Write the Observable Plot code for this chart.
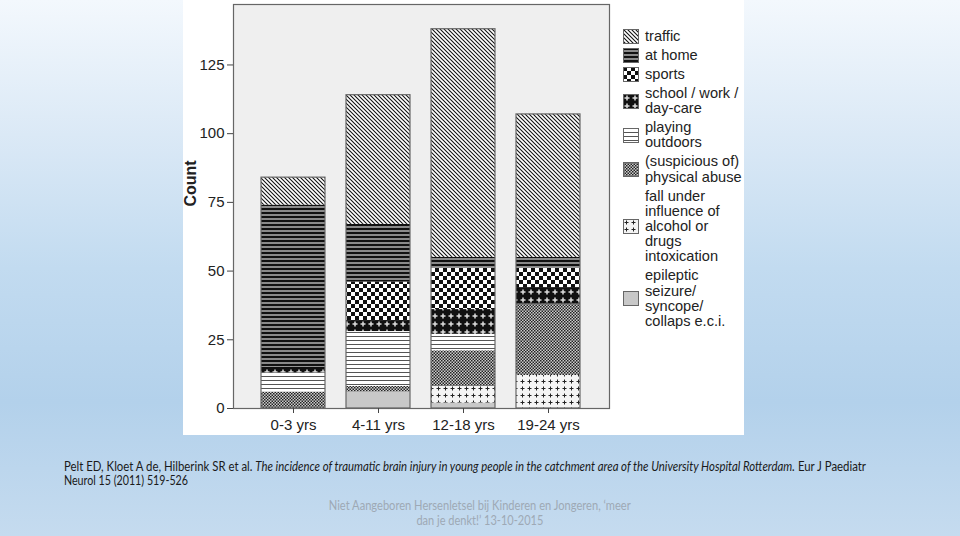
<!DOCTYPE html>
<html>
<head>
<meta charset="utf-8">
<script src="https://cdn.jsdelivr.net/npm/d3@7"></script>
<script src="https://cdn.jsdelivr.net/npm/@observablehq/plot@0.6"></script>
<style>
  html, body { margin: 0; padding: 0; }
  body {
    width: 960px; height: 536px; position: relative; overflow: hidden;
    background: linear-gradient(to bottom, #f3f8fd 0%, #dbe9f6 25%, #c2dbf0 50%, #b3d1eb 75%, #c5dbef 100%);
    font-family: "Liberation Sans", Arial, sans-serif;
  }
  #chart { position: absolute; left: 183px; top: 0; width: 561px; height: 435px; background: #fff; }
  #chart svg { display: block; }
  #legend { position: absolute; left: 440px; top: 29px; font-size: 14.6px; line-height: 15.2px; color: #222; white-space: nowrap; }
  .item { display: flex; align-items: center; margin-bottom: 3.8px; }
  .item svg { flex: none; margin-right: 6px; }
  #caption { position: absolute; left: 64px; top: 460px; font-family: Lato, "Open Sans", sans-serif; font-size: 12.5px; line-height: 14px; color: #1a1a1a; white-space: nowrap; }
  #caption .ln { display: block; width: max-content; transform-origin: 0 0; }
  #footer { position: absolute; left: 0; width: 960px; top: 498px; font-family: Lato, "Open Sans", sans-serif; font-size: 13px; line-height: 15px; color: #9ea9b5; white-space: nowrap; }
  #footer .ln { display: block; width: max-content; margin: 0 auto; transform-origin: 50% 0; }
</style>
</head>
<body>
<div id="chart"><div id="legend"></div></div>
<div id="caption"><span class="ln" data-w="802">Pelt ED, Kloet A de, Hilberink SR et al. <i>The incidence of traumatic brain injury in young people in the catchment area of the University Hospital Rotterdam.</i> Eur J Paediatr</span><span class="ln" data-w="124">Neurol 15 (2011) 519-526</span></div>
<div id="footer"><span class="ln" data-w="302">Niet Aangeboren Hersenletsel bij Kinderen en Jongeren, ‘meer</span><span class="ln" data-w="127">dan je denkt!’ 13-10-2015</span></div>
<script>
// ---- data ----
const ages = ["0-3 yrs", "4-11 yrs", "12-18 yrs", "19-24 yrs"];
const categories = ["traffic", "at home", "sports", "school / work / day-care", "playing outdoors",
  "(suspicious of) physical abuse", "fall under influence of alcohol or drugs intoxication",
  "epileptic seizure/ syncope/ collaps e.c.i."];
const legendLabels = ["traffic", "at home", "sports", "school / work /<br>day-care", "playing<br>outdoors",
  "(suspicious of)<br>physical abuse", "fall under<br>influence of<br>alcohol or<br>drugs<br>intoxication",
  "epileptic<br>seizure/<br>syncope/<br>collaps e.c.i."];
const traffic  = [10, 47, 83, 52];
const atHome   = [59, 21, 4, 4];
const sports   = [0, 14, 15, 7];
const school   = [2, 4, 9, 6];
const playing  = [7, 20, 6, 0];
const abuse    = [6, 2, 13, 26];
const alcohol  = [0, 0, 6, 12];
const seizure  = [0, 6, 2, 0];
const yTicks = [0, 25, 50, 75, 100, 125];

const series = [traffic, atHome, sports, school, playing, abuse, alcohol, seizure];
const patternIds = ["p-traffic", "p-home", "p-sports", "p-school", "p-playing", "p-abuse", "p-alcohol", "p-seizure"];

// stacked bottom-to-top: reverse of legend order
const data = [];
for (let s = categories.length - 1; s >= 0; s--) {
  ages.forEach((a, i) => { if (series[s][i] > 0) data.push({age: a, cat: categories[s], count: series[s][i]}); });
}

const svg = Plot.plot({
  width: 561, height: 435,
  marginLeft: 50, marginRight: 135, marginTop: 4, marginBottom: 27,
  style: {fontFamily: "'Liberation Sans', Arial, sans-serif", fontSize: "15px", color: "#222", background: "transparent"},
  x: {domain: ages, paddingInner: 0.247, paddingOuter: 0.335, label: null},
  y: {domain: [0, 147], label: null},
  color: {domain: categories, range: patternIds.map(id => `url(#${id})`)},
  marks: [
    Plot.frame({fill: "#efefef"}),
    Plot.barY(data, {x: "age", y: "count", fill: "cat", order: null}),
    Plot.barY(data, Plot.groupX({y: "sum"}, {x: "age", y: "count", fill: "none", stroke: "#666", strokeWidth: 1.2})),
    Plot.frame({stroke: "#666", strokeWidth: 1.2}),
    Plot.axisY({ticks: yTicks, tickSize: 6, tickPadding: 3, stroke: "#444", label: null}),
    Plot.axisX({tickSize: 5, tickPadding: 6, stroke: "#444", label: null}),
    Plot.text(["Count"], {frameAnchor: "left", rotate: -90, dx: -43, fontWeight: "bold", fontSize: 16, fill: "#222"})
  ]
});

// patterns
const defs = d3.select(svg).insert("defs", ":first-child");
function pat(id, w, h) {
  return defs.append("pattern").attr("id", id).attr("patternUnits", "userSpaceOnUse").attr("width", w).attr("height", h);
}
let p;
p = pat("p-traffic", 4, 4);
p.append("rect").attr("width", 4).attr("height", 4).attr("fill", "#fff");
p.append("path").attr("d", "M-1,-1L5,5M-1,3L1,5M3,-1L5,1").attr("stroke", "#111").attr("stroke-width", 1.1);
p = pat("p-home", 4, 4);
p.append("rect").attr("width", 4).attr("height", 4).attr("fill", "#8a8a8a");
p.append("rect").attr("width", 4).attr("height", 2).attr("fill", "#111");
p = pat("p-sports", 8, 8);
p.append("rect").attr("width", 8).attr("height", 8).attr("fill", "#fff");
p.append("rect").attr("width", 4).attr("height", 4).attr("fill", "#111");
p.append("rect").attr("x", 4).attr("y", 4).attr("width", 4).attr("height", 4).attr("fill", "#111");
p = pat("p-school", 8, 8);
p.append("rect").attr("width", 8).attr("height", 8).attr("fill", "#111");
p.append("path").attr("d", "M4,1.5V6.5M1.5,4H6.5").attr("stroke", "#ddd").attr("stroke-width", 1.5);
p = pat("p-playing", 4, 4);
p.append("rect").attr("width", 4).attr("height", 4).attr("fill", "#fff");
p.append("rect").attr("width", 4).attr("height", 1).attr("fill", "#555");
p = pat("p-abuse", 3, 3);
p.append("rect").attr("width", 3).attr("height", 3).attr("fill", "#ccc");
p.append("rect").attr("width", 1.5).attr("height", 1.5).attr("fill", "#222");
p.append("rect").attr("x", 1.5).attr("y", 1.5).attr("width", 1.5).attr("height", 1.5).attr("fill", "#222");
p = pat("p-alcohol", 7, 7);
p.append("rect").attr("width", 7).attr("height", 7).attr("fill", "#f4f4f4");
p.append("path").attr("d", "M3.5,1.5V5.5M1.5,3.5H5.5").attr("stroke", "#222").attr("stroke-width", 1);
p = pat("p-seizure", 4, 4);
p.append("rect").attr("width", 4).attr("height", 4).attr("fill", "#c8c8c8");

document.getElementById("chart").prepend(svg);

// legend
const legend = d3.select("#legend");
categories.forEach((c, i) => {
  const it = legend.append("div").attr("class", "item");
  const sw = it.append("svg").attr("width", 16).attr("height", 15);
  sw.append("rect").attr("x", 0.5).attr("y", 0.5).attr("width", 15).attr("height", 14)
    .attr("fill", `url(#${patternIds[i]})`).attr("stroke", "#666");
  it.append("div").html(legendLabels[i]);
});

// fit text lines to the widths they occupy in the reference
document.querySelectorAll(".ln").forEach(el => {
  const w = el.getBoundingClientRect().width;
  el.style.transform = `scaleX(${(+el.dataset.w / w).toFixed(4)})`;
});
</script>
</body>
</html>
